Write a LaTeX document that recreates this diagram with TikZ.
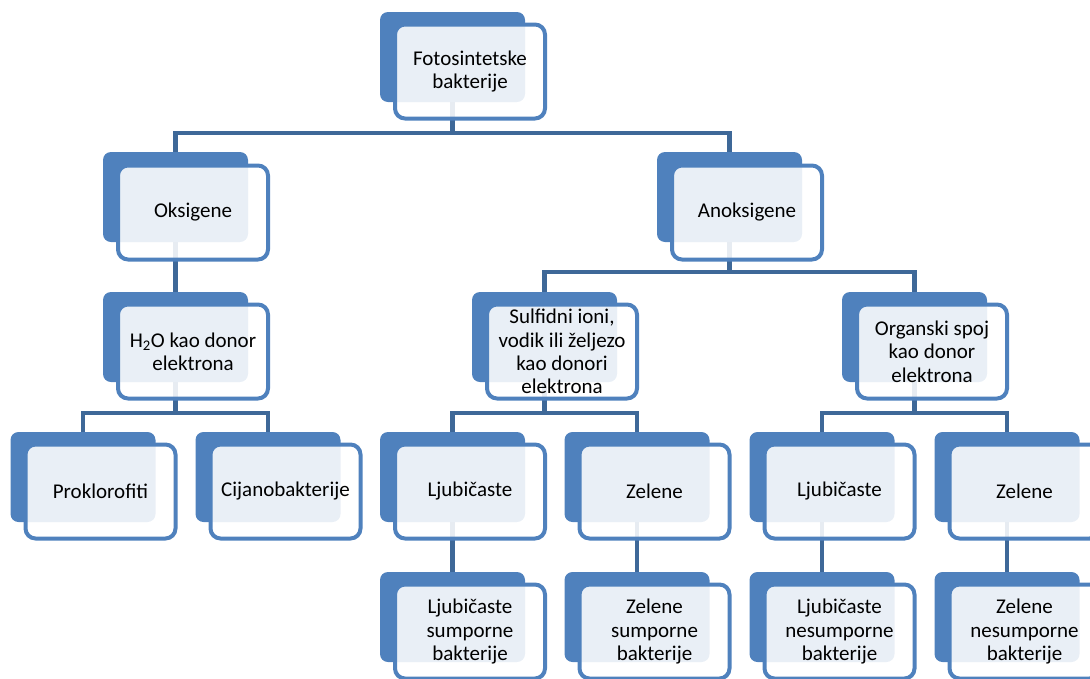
\documentclass[tikz,border=0pt]{standalone}
\usepackage{fontspec}
\setmainfont{Carlito}
\usepackage{tikz}
\usetikzlibrary{shapes,arrows}

\definecolor{boxblue}{HTML}{4F81BD}
\definecolor{linkblue}{HTML}{3E6898}

\tikzset{
  backbox/.style={rectangle, rounded corners=8pt, fill=boxblue, inner sep=0pt,
    minimum width=145pt, minimum height=90pt},
  frontbox/.style={rectangle, rounded corners=10pt, draw=boxblue, line width=4pt,
    fill=white, fill opacity=0.88, text opacity=1, inner sep=0pt,
    minimum width=150pt, minimum height=94pt, align=center,
    font=\fontsize{21}{23.3}\selectfont},
  conn/.style={draw=linkblue, line width=4.5pt}
}

\begin{document}
\begin{tikzpicture}[x=1pt, y=-1pt]

\useasboundingbox (0,0) rectangle (1090,678);

% back boxes
\node[backbox] (fotos-b) at (452.5,57) {};
\node[backbox] (oksi-b) at (175.5,197) {};
\node[backbox] (anoksi-b) at (729.5,197) {};
\node[backbox] (voda-b) at (175.5,337) {};
\node[backbox] (sulfid-b) at (544.5,337) {};
\node[backbox] (organ-b) at (914.5,337) {};
\node[backbox] (prokl-b) at (83,477) {};
\node[backbox] (cijano-b) at (268,477) {};
\node[backbox] (ljubA-b) at (452.5,477) {};
\node[backbox] (zelA-b) at (637,477) {};
\node[backbox] (ljubB-b) at (822,477) {};
\node[backbox] (zelB-b) at (1007,477) {};
\node[backbox] (ljubAs-b) at (452.5,617) {};
\node[backbox] (zelAs-b) at (637,617) {};
\node[backbox] (ljubBn-b) at (822,617) {};
\node[backbox] (zelBn-b) at (1007,617) {};

% connectors
\draw[conn] (fotos-b.south) -- ++(0,31) -| (oksi-b.north);
\draw[conn] (fotos-b.south) -- ++(0,31) -| (anoksi-b.north);
\draw[conn] (oksi-b.south) -- (voda-b.north);
\draw[conn] (anoksi-b.south) -- ++(0,30) -| (sulfid-b.north);
\draw[conn] (anoksi-b.south) -- ++(0,30) -| (organ-b.north);
\draw[conn] (voda-b.south) -- ++(0,31) -| (prokl-b.north);
\draw[conn] (voda-b.south) -- ++(0,31) -| (cijano-b.north);
\draw[conn] (sulfid-b.south) -- ++(0,31) -| (ljubA-b.north);
\draw[conn] (sulfid-b.south) -- ++(0,31) -| (zelA-b.north);
\draw[conn] (organ-b.south) -- ++(0,31) -| (ljubB-b.north);
\draw[conn] (organ-b.south) -- ++(0,31) -| (zelB-b.north);
\draw[conn] (ljubA-b.south) -- (ljubAs-b.north);
\draw[conn] (zelA-b.south) -- (zelAs-b.north);
\draw[conn] (ljubB-b.south) -- (ljubBn-b.north);
\draw[conn] (zelB-b.south) -- (zelBn-b.north);

% front boxes
\node[frontbox] (fotos) at (470,71.5) {Fotosintetske\\bakterije};
\node[frontbox] (oksi) at (193,212.5) {Oksigene};
\node[frontbox] (anoksi) at (747,212.5) {Anoksigene};
\node[frontbox] (voda) at (193,351.5) {H\textsubscript{2}O kao donor\\elektrona};
\node[frontbox] (sulfid) at (562,351.5) {Sulfidni ioni,\\vodik ili željezo\\kao donori\\elektrona};
\node[frontbox] (organ) at (932,351.5) {Organski spoj\\kao donor\\elektrona};
\node[frontbox] (prokl) at (100.5,491.5) {Proklorofiti};
\node[frontbox] (cijano) at (285.5,491.5) {Cijanobakterije};
\node[frontbox] (ljubA) at (470,491.5) {Ljubičaste};
\node[frontbox] (zelA) at (654.5,491.5) {Zelene};
\node[frontbox] (ljubB) at (839.5,491.5) {Ljubičaste};
\node[frontbox] (zelB) at (1024.5,491.5) {Zelene};
\node[frontbox] (ljubAs) at (470,631.5) {Ljubičaste\\sumporne\\bakterije};
\node[frontbox] (zelAs) at (654.5,631.5) {Zelene\\sumporne\\bakterije};
\node[frontbox] (ljubBn) at (839.5,631.5) {Ljubičaste\\nesumporne\\bakterije};
\node[frontbox] (zelBn) at (1024.5,631.5) {Zelene\\nesumporne\\bakterije};

\end{tikzpicture}
\end{document}
